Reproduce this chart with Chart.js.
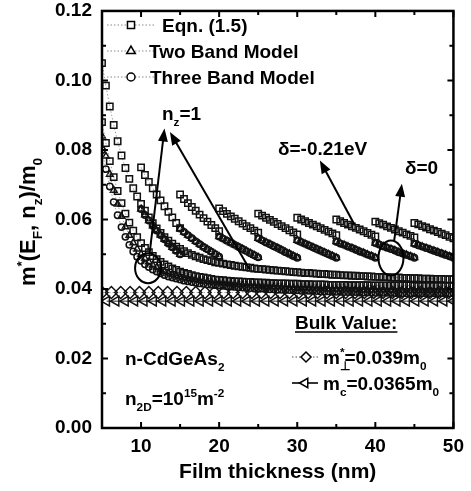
<!DOCTYPE html>
<html>
<head>
<meta charset="utf-8">
<script src="https://cdn.jsdelivr.net/npm/chart.js@4/dist/chart.umd.min.js"></script>
<style>
  html, body { margin: 0; padding: 0; background: #fff; }
  canvas { display: block; }
</style>
</head>
<body>
<canvas id="chart" width="471" height="491"></canvas>
<script>
const FONT = '"Liberation Sans", Arial, sans-serif';

// film thickness grid (nm)
const thickness = [
  5, 5.5, 6, 6.5, 7, 7.5, 8, 8.5, 9, 9.5,
  10, 10.5, 11, 11.5, 12, 12.5, 13, 13.5, 14, 14.5,
  15, 15.5, 16, 16.5, 17, 17.5, 18, 18.5, 19, 19.5,
  20, 20.5, 21, 21.5, 22, 22.5, 23, 23.5, 24, 24.5,
  25, 25.5, 26, 26.5, 27, 27.5, 28, 28.5, 29, 29.5,
  30, 30.5, 31, 31.5, 32, 32.5, 33, 33.5, 34, 34.5,
  35, 35.5, 36, 36.5, 37, 37.5, 38, 38.5, 39, 39.5,
  40, 40.5, 41, 41.5, 42, 42.5, 43, 43.5, 44, 44.5,
  45, 45.5, 46, 46.5, 47, 47.5, 48, 48.5, 49, 49.5,
  50
];

// n_z = 1 curves, m*/m0
const eqnUpper = [
  .1050, .0985, .0925, .0872, .0825, .0784, .0748, .0717, .0690, .0666,
  .0645, .0625, .0606, .0589, .0574, .0561, .0549, .0539, .0530, .0522,
  .0515, .0509, .0503, .0498, .0494, .0490, .0486, .0483, .0480, .0477,
  .0475, .0473, .0471, .0469, .0467, .0465, .0464, .0462, .0461, .0459,
  .0458, .0457, .0456, .0455, .0454, .0453, .0452, .0451, .0450, .0449,
  .0448, .0447, .0446, .0446, .0445, .0444, .0443, .0443, .0442, .0441,
  .0441, .0440, .0439, .0439, .0438, .0438, .0437, .0437, .0436, .0436,
  .0435, .0435, .0434, .0434, .0433, .0433, .0433, .0432, .0432, .0431,
  .0431, .0431, .0430, .0430, .0430, .0429, .0429, .0429, .0428, .0428,
  .0428
];
const eqnLower = [
  .0880, .0820, .0768, .0722, .0682, .0647, .0617, .0591, .0568, .0549,
  .0532, .0518, .0506, .0495, .0486, .0478, .0471, .0465, .0459, .0455,
  .0450, .0446, .0443, .0440, .0437, .0435, .0433, .0431, .0429, .0427,
  .0426, .0425, .0424, .0423, .0422, .0422, .0421, .0420, .0420, .0419,
  .0419, .0418, .0418, .0417, .0417, .0416, .0416, .0416, .0415, .0415,
  .0415, .0414, .0414, .0414, .0413, .0413, .0413, .0413, .0412, .0412,
  .0412, .0412, .0412, .0411, .0411, .0411, .0411, .0411, .0411, .0410,
  .0410, .0410, .0410, .0410, .0410, .0410, .0410, .0410, .0410, .0410,
  .0409, .0409, .0409, .0409, .0409, .0409, .0409, .0409, .0409, .0409,
  .0409
];
const twoBand = [
  .0840, .0782, .0730, .0684, .0644, .0609, .0579, .0554, .0533, .0515,
  .0500, .0488, .0478, .0469, .0462, .0456, .0450, .0446, .0442, .0438,
  .0435, .0432, .0430, .0428, .0426, .0424, .0422, .0421, .0419, .0418,
  .0417, .0416, .0415, .0414, .0413, .0412, .0411, .0410, .0410, .0409,
  .0408, .0408, .0407, .0406, .0406, .0405, .0405, .0404, .0404, .0403,
  .0403, .0402, .0402, .0402, .0401, .0401, .0400, .0400, .0400, .0399,
  .0399, .0399, .0398, .0398, .0398, .0398, .0397, .0397, .0397, .0397,
  .0396, .0396, .0396, .0396, .0396, .0395, .0395, .0395, .0395, .0395,
  .0395, .0395, .0395, .0395, .0395, .0395, .0395, .0395, .0395, .0395,
  .0395
];
const threeBand = [
  .0800, .0745, .0695, .0650, .0612, .0578, .0550, .0527, .0508, .0493,
  .0481, .0471, .0463, .0456, .0450, .0445, .0440, .0436, .0433, .0430,
  .0427, .0424, .0422, .0420, .0418, .0416, .0415, .0413, .0412, .0411,
  .0410, .0409, .0408, .0407, .0406, .0405, .0404, .0403, .0403, .0402,
  .0401, .0401, .0400, .0399, .0399, .0398, .0398, .0397, .0397, .0396,
  .0396, .0395, .0395, .0395, .0394, .0394, .0393, .0393, .0393, .0392,
  .0392, .0392, .0391, .0391, .0391, .0391, .0390, .0390, .0390, .0390,
  .0389, .0389, .0389, .0389, .0389, .0388, .0388, .0388, .0388, .0388,
  .0388, .0388, .0388, .0388, .0388, .0388, .0388, .0388, .0388, .0388,
  .0388
];

// saw-tooth branches, one row per 5 nm stretch
const sawStarts = [10, 15, 20, 25, 30, 35, 40, 45];
const sawUpper = [
  [.0750, .0728, .0708, .0690, .0672, .0655, .0638, .0622, .0606, .0590, .0575],
  [.0672, .0659, .0647, .0636, .0625, .0614, .0604, .0594, .0584, .0575, .0566],
  [.0632, .0624, .0616, .0609, .0602, .0595, .0588, .0581, .0575, .0568, .0562],
  [.0617, .0611, .0605, .0599, .0593, .0587, .0581, .0575, .0569, .0563, .0557],
  [.0605, .0600, .0595, .0590, .0585, .0580, .0575, .0570, .0565, .0560, .0555],
  [.0600, .0595, .0590, .0585, .0580, .0576, .0571, .0566, .0561, .0556, .0551],
  [.0594, .0589, .0585, .0580, .0576, .0571, .0566, .0562, .0557, .0553, .0548],
  [.0590, .0586, .0581, .0577, .0572, .0568, .0564, .0559, .0555, .0550, .0546]
];
const sawLower = [
  [.0630, .0613, .0597, .0582, .0568, .0555, .0543, .0531, .0520, .0510, .0500],
  [.0574, .0564, .0555, .0546, .0537, .0529, .0521, .0514, .0507, .0500, .0493],
  [.0551, .0545, .0539, .0533, .0527, .0521, .0515, .0509, .0503, .0497, .0491],
  [.0546, .0540, .0534, .0529, .0523, .0518, .0512, .0506, .0501, .0495, .0490],
  [.0540, .0535, .0530, .0525, .0520, .0515, .0510, .0505, .0500, .0495, .0490],
  [.0536, .0531, .0527, .0522, .0518, .0513, .0508, .0504, .0499, .0495, .0490],
  [.0532, .0528, .0523, .0519, .0515, .0511, .0506, .0502, .0498, .0494, .0490],
  [.0530, .0526, .0522, .0518, .0514, .0510, .0506, .0502, .0498, .0494, .0490]
];

// bulk values
const bulkPerp = 0.039;
const bulkC = 0.0365;
const bulkPerpX = [5.0, 6.2, 7.4, 8.6, 9.8, 11.0, 12.2, 13.4, 14.6, 15.8, 17.0, 18.2, 19.4,
  20.6, 21.8, 23.0, 24.2, 25.4, 26.6, 27.8, 29.0, 30.2, 31.4, 32.6, 33.8, 35.0, 36.2, 37.4,
  38.6, 39.8, 41.0, 42.2, 43.4, 44.6, 45.8, 47.0, 48.2, 49.4];
const bulkCX = [5.6, 6.8, 8.0, 9.2, 10.4, 11.6, 12.8, 14.0, 15.2, 16.4, 17.6, 18.8, 20.0,
  21.2, 22.4, 23.6, 24.8, 26.0, 27.2, 28.4, 29.6, 30.8, 32.0, 33.2, 34.4, 35.6, 36.8, 38.0,
  39.2, 40.4, 41.6, 42.8, 44.0, 45.2, 46.4, 47.6, 48.8, 50.0];

const xTicks = [10, 20, 30, 40, 50];
const xMinor = [15, 25, 35, 45];
const yTicks = [0, 0.02, 0.04, 0.06, 0.08, 0.10, 0.12];
const yMinor = [0.01, 0.03, 0.05, 0.07, 0.09, 0.11];

function curve(vals) {
  return vals.map((v, i) => ({ x: thickness[i], y: v }));
}

function saw(rows) {
  const pts = [];
  rows.forEach((vals, k) => {
    const i0 = thickness.indexOf(sawStarts[k]);
    vals.forEach((v, j) => pts.push({ x: thickness[i0 + j], y: v }));
    pts.push({ x: thickness[i0 + vals.length - 1], y: null });
  });
  return pts;
}

function marker(style, r, extra) {
  return Object.assign({
    showLine: true,
    spanGaps: false,
    borderColor: '#8a8a8a',
    borderWidth: 0.8,
    borderDash: [1.5, 2],
    pointStyle: style,
    pointRadius: r,
    pointBackgroundColor: 'rgba(255,255,255,0)',
    pointBorderColor: '#111',
    pointBorderWidth: 1.5
  }, extra || {});
}

const datasets = [
  Object.assign({ label: 'Eqn. (1.5) saw', data: saw(sawUpper) }, marker('rect', 4.5)),
  Object.assign({ label: 'Three Band saw', data: saw(sawLower) }, marker('circle', 3.2)),
  Object.assign({ label: 'Two Band saw', data: saw(sawLower) }, marker('triangle', 3.8)),
  Object.assign({ label: 'Eqn. (1.5)', data: curve(eqnUpper) }, marker('rect', 4.5)),
  Object.assign({ label: 'Eqn. (1.5) b', data: curve(eqnLower) }, marker('rect', 4.5)),
  Object.assign({ label: 'Three Band Model', data: curve(threeBand) }, marker('circle', 3.2)),
  Object.assign({ label: 'Two Band Model', data: curve(twoBand) }, marker('triangle', 3.8)),
  Object.assign({ label: 'm_perp', data: bulkPerpX.map(x => ({ x, y: bulkPerp })) }, marker('rectRot', 6)),
  Object.assign({ label: 'm_c', data: bulkCX.map(x => ({ x, y: bulkC })) },
    marker('triangle', 5.5, { pointRotation: -90, borderColor: '#222', borderDash: [], borderWidth: 1 }))
];

// rich text helper: parts = [text, kind] kind '' | 'sub' | 'sup' | 'subk' (no advance)
function rich(ctx, x, y, parts, size, measureOnly) {
  let cx = x;
  parts.forEach(([t, k]) => {
    const small = k ? size * 0.62 : size;
    ctx.font = `bold ${small}px ${FONT}`;
    let dy = 0;
    if (k === 'sub' || k === 'subk') dy = size * 0.32;
    if (k === 'sup') dy = -size * 0.42;
    if (!measureOnly) ctx.fillText(t, cx, y + dy);
    if (k !== 'subk') cx += ctx.measureText(t).width;
  });
  return cx - x;
}

function arrow(ctx, x1, y1, x2, y2) {
  const ang = Math.atan2(y2 - y1, x2 - x1);
  const L = 13, W = 5;
  ctx.beginPath();
  ctx.moveTo(x1, y1);
  ctx.lineTo(x2 - Math.cos(ang) * L * 0.8, y2 - Math.sin(ang) * L * 0.8);
  ctx.stroke();
  ctx.beginPath();
  ctx.moveTo(x2, y2);
  ctx.lineTo(x2 - Math.cos(ang) * L + Math.sin(ang) * W, y2 - Math.sin(ang) * L - Math.cos(ang) * W);
  ctx.lineTo(x2 - Math.cos(ang) * L - Math.sin(ang) * W, y2 - Math.sin(ang) * L + Math.cos(ang) * W);
  ctx.closePath();
  ctx.fill();
}

const decor = {
  id: 'decor',
  afterDraw(chart) {
    const { ctx, chartArea: a, scales: { x, y } } = chart;
    const px = v => x.getPixelForValue(v);
    const py = v => y.getPixelForValue(v);
    ctx.save();
    ctx.fillStyle = '#000';
    ctx.strokeStyle = '#000';

    // frame and inward ticks on all sides
    ctx.lineWidth = 2.5;
    ctx.strokeRect(a.left, a.top, a.right - a.left, a.bottom - a.top);
    ctx.lineWidth = 2;
    const tick = (vals, len, horiz) => vals.forEach(v => {
      ctx.beginPath();
      if (horiz) {
        const p = px(v);
        ctx.moveTo(p, a.bottom); ctx.lineTo(p, a.bottom - len);
        ctx.moveTo(p, a.top); ctx.lineTo(p, a.top + len);
      } else {
        const p = py(v);
        ctx.moveTo(a.left, p); ctx.lineTo(a.left + len, p);
        ctx.moveTo(a.right, p); ctx.lineTo(a.right - len, p);
      }
      ctx.stroke();
    });
    tick(xTicks, 6, true);
    tick(xMinor, 4, true);
    tick(yTicks, 6, false);
    tick(yMinor, 4, false);

    // axis titles
    ctx.textBaseline = 'alphabetic';
    ctx.textAlign = 'left';
    ctx.font = `bold 21px ${FONT}`;
    const xt = 'Film thickness (nm)';
    ctx.fillText(xt, (a.left + a.right) / 2 - ctx.measureText(xt).width / 2, 478);

    const yParts = [['m', ''], ['*', 'sup'], ['(E', ''], ['F', 'sub'], [', n', ''], ['z', 'sub'], [')/m', ''], ['0', 'sub']];
    ctx.save();
    ctx.translate(35, 222);
    ctx.rotate(-Math.PI / 2);
    const yw = rich(ctx, 0, 0, yParts, 22, true);
    rich(ctx, -yw / 2, 0, yParts, 22);
    ctx.restore();

    // top-left legend
    const legend = [
      ['rect', 5, 'Eqn. (1.5)', 25, 162],
      ['triangle', 5, 'Two Band Model', 51, 149],
      ['circle', 4, 'Three Band Model', 77, 150]
    ];
    legend.forEach(([style, r, text, ly, tx]) => {
      ctx.save();
      ctx.strokeStyle = '#8a8a8a';
      ctx.lineWidth = 1;
      ctx.setLineDash([1.5, 2]);
      ctx.beginPath(); ctx.moveTo(107, ly); ctx.lineTo(155, ly); ctx.stroke();
      ctx.restore();
      ctx.fillStyle = '#fff';
      ctx.lineWidth = 1.5;
      Chart.helpers.drawPoint(ctx, { pointStyle: style, radius: r, rotation: 0, borderWidth: 1.5 }, 131, ly);
      ctx.fillStyle = '#000';
      ctx.font = `bold 19px ${FONT}`;
      ctx.fillText(text, tx, ly + 7);
    });

    // bulk value legend
    ctx.font = `bold 19px ${FONT}`;
    ctx.fillText('Bulk Value:', 295, 329);
    const bw = ctx.measureText('Bulk Value:').width;
    ctx.lineWidth = 1.5;
    ctx.beginPath(); ctx.moveTo(295, 332); ctx.lineTo(295 + bw, 332); ctx.stroke();

    ctx.save();
    ctx.strokeStyle = '#555';
    ctx.lineWidth = 1;
    ctx.setLineDash([1.5, 2]);
    ctx.beginPath(); ctx.moveTo(292, 357); ctx.lineTo(318, 357); ctx.stroke();
    ctx.restore();
    ctx.fillStyle = '#fff';
    ctx.lineWidth = 1.5;
    Chart.helpers.drawPoint(ctx, { pointStyle: 'rectRot', radius: 5, rotation: 0, borderWidth: 1.5 }, 306, 357);
    ctx.lineWidth = 1.6;
    ctx.beginPath(); ctx.moveTo(292, 383); ctx.lineTo(318, 383); ctx.stroke();
    ctx.fillStyle = '#fff';
    ctx.lineWidth = 1.5;
    Chart.helpers.drawPoint(ctx, { pointStyle: 'triangle', radius: 5.5, rotation: -90, borderWidth: 1.5 }, 305, 383);
    ctx.fillStyle = '#000';
    rich(ctx, 323, 364, [['m', ''], ['\u22a5', 'subk'], ['*', 'sup'], ['=0.039m', ''], ['0', 'sub']], 19);
    rich(ctx, 323, 390, [['m', ''], ['c', 'sub'], ['=0.0365m', ''], ['0', 'sub']], 19);

    // material labels
    rich(ctx, 125, 365, [['n-CdGeAs', ''], ['2', 'sub']], 19);
    rich(ctx, 125, 405, [['n', ''], ['2D', 'sub'], ['=10', ''], ['15', 'sup'], ['m', ''], ['-2', 'sup']], 19);

    // n_z = 1 annotation
    rich(ctx, 162, 120, [['n', ''], ['z', 'sub'], ['=1', '']], 19);
    ctx.lineWidth = 2;
    arrow(ctx, px(11.1), py(0.0503), px(13.0), py(0.0862));
    arrow(ctx, px(23.9), py(0.0457), px(13.7), py(0.0852));
    ctx.beginPath();
    ctx.ellipse(px(10.9), py(0.0460), 13, 15, 0, 0, Math.PI * 2);
    ctx.stroke();

    // delta annotations
    ctx.font = `bold 19px ${FONT}`;
    ctx.fillText('\u03b4=-0.21eV', 278, 155);
    arrow(ctx, px(37.3), py(0.0586), px(32.9), py(0.0770));
    ctx.fillText('\u03b4=0', 405, 174);
    arrow(ctx, px(42.4), py(0.0537), px(43.4), py(0.0703));
    ctx.beginPath();
    ctx.ellipse(px(42.0), py(0.0489), 12.5, 17.5, 0, 0, Math.PI * 2);
    ctx.stroke();

    ctx.restore();
  }
};

Chart.defaults.font.family = FONT;
Chart.defaults.color = '#000';

new Chart(document.getElementById('chart'), {
  type: 'scatter',
  data: { datasets },
  options: {
    responsive: false,
    animation: false,
    devicePixelRatio: 1,
    layout: { padding: { top: 8, right: 16, left: 0, bottom: 0 } },
    plugins: { legend: { display: false }, tooltip: { enabled: false } },
    scales: {
      x: {
        type: 'linear',
        min: 5,
        max: 50,
        afterBuildTicks: s => { s.ticks = xTicks.map(v => ({ value: v })); },
        afterFit: s => { s.height = 63; },
        grid: { display: false, drawTicks: false },
        border: { display: false },
        ticks: { font: { size: 19, weight: 'bold' }, padding: 7, color: '#000', maxRotation: 0 }
      },
      y: {
        type: 'linear',
        min: 0,
        max: 0.12,
        afterBuildTicks: s => { s.ticks = yTicks.map(v => ({ value: v })); },
        afterFit: s => { s.width = 102; },
        grid: { display: false, drawTicks: false },
        border: { display: false },
        ticks: { font: { size: 19, weight: 'bold', lineHeight: 0.1 }, padding: 10, color: '#000', callback: v => v.toFixed(2) }
      }
    }
  },
  plugins: [decor]
});
</script>
</body>
</html>
